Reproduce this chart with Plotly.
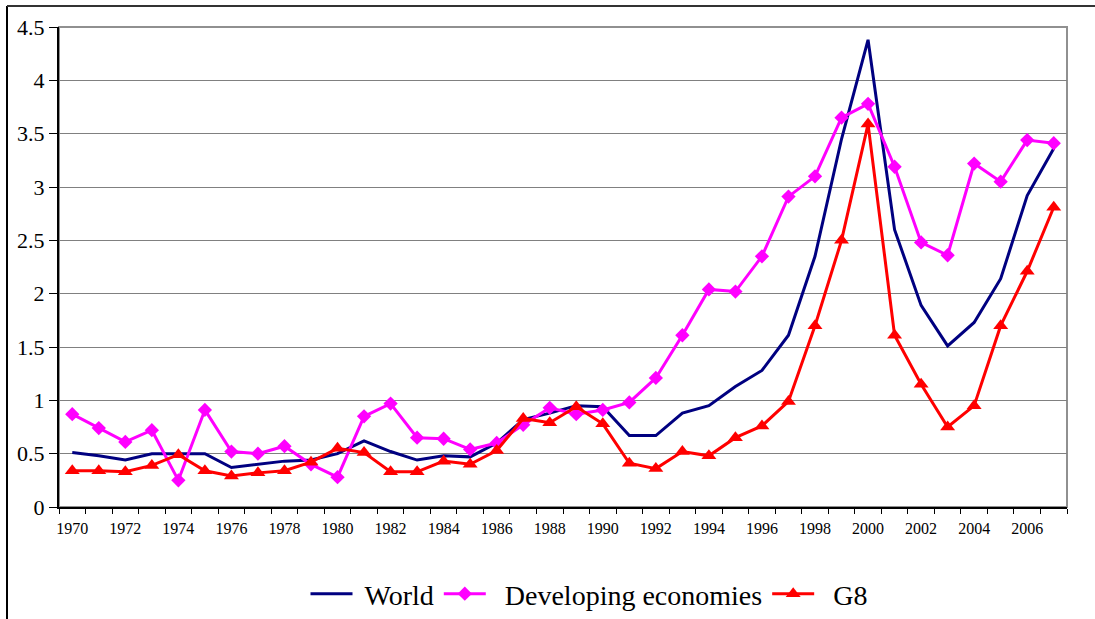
import plotly.graph_objects as go

years = list(range(1970, 2008))

world = [0.51, 0.48, 0.44, 0.50, 0.50, 0.50, 0.37, 0.40, 0.43, 0.44,
         0.50, 0.62, 0.52, 0.44, 0.48, 0.47, 0.60, 0.82, 0.88, 0.95,
         0.94, 0.67, 0.67, 0.88, 0.95, 1.13, 1.28, 1.61, 2.35, 3.45,
         4.38, 2.60, 1.89, 1.51, 1.73, 2.14, 2.92, 3.36]

developing = [0.87, 0.74, 0.61, 0.72, 0.25, 0.91, 0.52, 0.50, 0.57, 0.40,
              0.28, 0.85, 0.97, 0.65, 0.64, 0.54, 0.60, 0.77, 0.93, 0.87,
              0.91, 0.98, 1.21, 1.61, 2.04, 2.02, 2.35, 2.91, 3.10, 3.65,
              3.78, 3.19, 2.48, 2.36, 3.22, 3.05, 3.44, 3.41]

g8 = [0.34, 0.34, 0.33, 0.39, 0.49, 0.34, 0.29, 0.32, 0.34, 0.42,
      0.55, 0.51, 0.33, 0.33, 0.43, 0.40, 0.53, 0.83, 0.79, 0.94,
      0.78, 0.41, 0.36, 0.52, 0.48, 0.65, 0.76, 0.99, 1.70, 2.50,
      3.59, 1.61, 1.15, 0.75, 0.95, 1.70, 2.21, 2.81]

x_tick_years = list(range(1970, 2007, 2))
y_ticks = [0, 0.5, 1, 1.5, 2, 2.5, 3, 3.5, 4, 4.5]
y_tick_labels = ["0", "0.5", "1", "1.5", "2", "2.5", "3", "3.5", "4", "4.5"]

SERIF = "Liberation Serif"
NB = "\u00a0"

fig = go.Figure()
fig.add_trace(go.Scatter(x=years, y=world, name=NB + "World", mode="lines",
                         line=dict(color="#000080", width=3)))
fig.add_trace(go.Scatter(x=years, y=developing, name=NB + NB + "Developing economies",
                         mode="lines+markers",
                         line=dict(color="#FF00FF", width=3),
                         marker=dict(symbol="diamond", size=11, color="#FF00FF")))
fig.add_trace(go.Scatter(x=years, y=g8, name=NB + NB + "G8", mode="lines+markers",
                         line=dict(color="#FF0000", width=3),
                         marker=dict(symbol="triangle-up", size=13, color="#FF0000")))

W, H = 1095, 619
L, R, T, B = 59, 28, 27, 112
pw, ph = W - L - R, H - T - B

def px_x(x):
    return (x - L) / pw

def px_y(y):
    return (H - B - y) / ph

fig.update_layout(
    width=W, height=H,
    margin=dict(l=L, r=R, t=T, b=B),
    paper_bgcolor="white", plot_bgcolor="white",
    font=dict(family=SERIF, color="black"),
    showlegend=True,
    legend=dict(orientation="h", xref="container", yref="container",
                x=589 / W, xanchor="center", y=1 - 594 / H, yanchor="middle",
                font=dict(family=SERIF, size=28, color="black"),
                bgcolor="rgba(0,0,0,0)", itemwidth=42, tracegroupgap=0),
    xaxis=dict(range=[1969.5, 2007.5], tickvals=x_tick_years,
               ticktext=[str(v) for v in x_tick_years],
               ticks="outside", ticklen=6, tickcolor="rgba(0,0,0,0)",
               tickfont=dict(family=SERIF, size=16, color="black"),
               showgrid=False, zeroline=False,
               showline=True, linecolor="black", linewidth=2,
               minor=dict(tick0=1969.5, dtick=1, ticks="outside", ticklen=5,
                          tickcolor="black", tickwidth=1, showgrid=False)),
    yaxis=dict(range=[0, 4.5], tickvals=y_ticks, ticktext=y_tick_labels,
               ticks="outside", ticklen=8, tickcolor="black", tickwidth=1,
               tickfont=dict(family=SERIF, size=22, color="black"),
               showgrid=True, gridcolor="#808080", gridwidth=1,
               zeroline=False, showline=True, linecolor="black", linewidth=2),
    shapes=[
        dict(type="rect", xref="paper", yref="paper", x0=0, x1=1, y0=0, y1=1,
             line=dict(color="#909090", width=2), layer="below"),
        dict(type="line", xref="paper", yref="paper",
             x0=px_x(7), x1=px_x(7), y0=px_y(6), y1=px_y(625),
             line=dict(color="black", width=2)),
        dict(type="line", xref="paper", yref="paper",
             x0=px_x(7), x1=px_x(1100), y0=px_y(6), y1=px_y(6),
             line=dict(color="#333333", width=2)),
    ],
)

fig.write_html("out.html", config={"displayModeBar": False},
               post_script="document.body.style.margin='0';")
